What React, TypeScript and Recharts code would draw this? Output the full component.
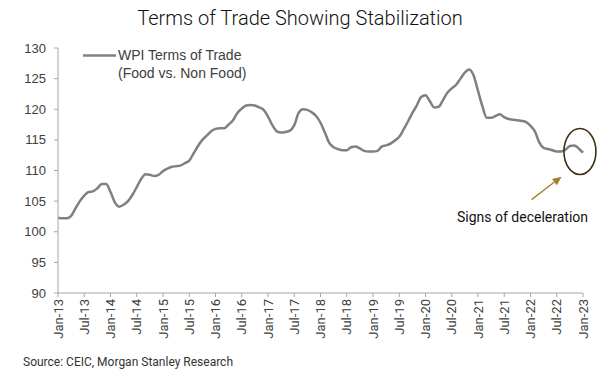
import React from 'react';
import { LineChart, Line, XAxis, YAxis, ReferenceDot } from 'recharts';

// monthly index: 0 = Jan-13 ... 120 = Jan-23
const MONTH_NAMES = ['Jan', 'Feb', 'Mar', 'Apr', 'May', 'Jun', 'Jul', 'Aug', 'Sep', 'Oct', 'Nov', 'Dec'];
const START_YEAR = 13;

const TERMS_OF_TRADE = [
  102.3, 102.2, 102.2, 102.6, 103.8, 105.0, 105.9, 106.5, 106.6, 107.1, 107.8, 107.8,
  106.5, 104.8, 104.1, 104.4, 105.0, 106.0, 107.3, 108.6, 109.4, 109.3, 109.1, 109.3,
  109.9, 110.3, 110.6, 110.7, 110.8, 111.2, 111.6, 112.8, 114.0, 115.0, 115.7, 116.4,
  116.8, 116.9, 116.9, 117.5, 118.2, 119.4, 120.1, 120.6, 120.7, 120.6, 120.3, 119.9,
  118.8, 117.4, 116.4, 116.2, 116.3, 116.5, 117.4, 119.4, 120.0, 119.9, 119.5, 118.9,
  117.8, 116.2, 114.5, 113.8, 113.5, 113.3, 113.3, 113.8, 113.9, 113.6, 113.2, 113.1,
  113.1, 113.2, 113.9, 114.1, 114.4, 114.9, 115.5, 116.7, 118.0, 119.4, 120.6, 122.0,
  122.3, 121.3, 120.3, 120.4, 121.5, 122.7, 123.4, 124.0, 125.0, 126.0, 126.5, 125.5,
  123.0, 120.5, 118.6, 118.6, 118.9, 119.2, 118.7, 118.4, 118.3, 118.2, 118.1, 117.9,
  117.3, 116.4, 114.6, 113.7, 113.5, 113.3, 113.1, 113.1, 113.4, 114.0, 114.1, 113.6,
  112.9,
];

const X_TICKS = [0, 6, 12, 18, 24, 30, 36, 42, 48, 54, 60, 66, 72, 78, 84, 90, 96, 102, 108, 114, 120];
const Y_TICKS = [90, 95, 100, 105, 110, 115, 120, 125, 130];

const monthLabel = (i: number) =>
  `${MONTH_NAMES[i % 12]}-${START_YEAR + Math.floor(i / 12)}`;

const data = TERMS_OF_TRADE.map((value, i) => ({ idx: i, month: monthLabel(i), value }));

const AXIS_COLOR = '#a6a6a6';
const TEXT_COLOR = '#404040';

const XTick = ({ x, y, payload }: any) => (
  <text
    x={x}
    y={y}
    transform={`rotate(-90, ${x}, ${y})`}
    textAnchor="end"
    dy="0.36em"
    fontSize={13}
    fontFamily="Roboto, sans-serif"
    fill={TEXT_COLOR}
  >
    {monthLabel(payload.value)}
  </text>
);

const Ellipse = ({ cx, cy }: any) => (
  <ellipse cx={cx} cy={cy} rx={16} ry={23} fill="none" stroke="#3d310f" strokeWidth={1.6} />
);

const Arrow = ({ cx, cy }: any) => {
  // cx, cy is the arrow head
  const tx = cx - 30;
  const ty = cy + 23;
  const ang = Math.atan2(cy - ty, cx - tx);
  const len = 9;
  const w = 4;
  const bx = cx - len * Math.cos(ang);
  const by = cy - len * Math.sin(ang);
  const px = -Math.sin(ang) * w;
  const py = Math.cos(ang) * w;
  return (
    <g>
      <line x1={tx} y1={ty} x2={bx} y2={by} stroke="#a87c2c" strokeWidth={1.3} />
      <polygon
        points={`${cx},${cy} ${bx + px},${by + py} ${bx - px},${by - py}`}
        fill="#a87c2c"
      />
    </g>
  );
};

export default function App() {
  return (
    <div
      style={{
        position: 'absolute',
        left: 0,
        top: 0,
        width: 600,
        height: 386,
        background: '#fff',
      }}
    >
      <div
        style={{
          position: 'absolute',
          left: 0,
          width: 600,
          top: 6,
          textAlign: 'center',
          fontFamily: 'Roboto, sans-serif',
          fontWeight: 300,
          fontSize: 20,
          color: '#111',
        }}
      >
        Terms of Trade Showing Stabilization
      </div>

      <LineChart
        width={600}
        height={386}
        data={data}
        margin={{ top: 48, right: 17, bottom: 0, left: 0 }}
      >
        <XAxis
          dataKey="idx"
          type="number"
          domain={[0, 120]}
          ticks={X_TICKS}
          interval={0}
          height={93}
          tick={<XTick />}
          tickSize={4}
          tickMargin={2}
          stroke={AXIS_COLOR}
        />
        <YAxis
          type="number"
          domain={[90, 130]}
          ticks={Y_TICKS}
          interval={0}
          width={58}
          tickSize={4}
          tickMargin={8}
          stroke={AXIS_COLOR}
          tick={{ fontSize: 13, fill: TEXT_COLOR, fontFamily: '"Liberation Sans", Arial, sans-serif' }}
        />
        <Line
          type="monotone"
          dataKey="value"
          stroke="#808080"
          strokeWidth={2.5}
          dot={false}
          isAnimationActive={false}
        />
        <ReferenceDot x={119.3} y={113.1} r={0} shape={<Ellipse />} />
        <ReferenceDot x={115.1} y={109.0} r={0} shape={<Arrow />} />
      </LineChart>

      {/* legend */}
      <svg style={{ position: 'absolute', left: 83, top: 53 }} width={33} height={5}>
        <line x1={0} y1={2.5} x2={33} y2={2.5} stroke="#808080" strokeWidth={2.5} />
      </svg>
      <div
        style={{
          position: 'absolute',
          left: 118,
          top: 46,
          fontFamily: '"Liberation Sans", Arial, sans-serif',
          fontSize: 14,
          lineHeight: '18px',
          color: TEXT_COLOR,
        }}
      >
        WPI Terms of Trade
        <br />
        (Food vs. Non Food)
      </div>

      <div
        style={{
          position: 'absolute',
          left: 457,
          top: 209,
          fontFamily: 'Roboto, sans-serif',
          fontSize: 14,
          color: '#111',
          whiteSpace: 'nowrap',
        }}
      >
        Signs of deceleration
      </div>

      <div
        style={{
          position: 'absolute',
          left: 23,
          top: 355,
          fontFamily: 'Roboto, sans-serif',
          fontSize: 12,
          color: '#333',
          whiteSpace: 'nowrap',
        }}
      >
        Source: CEIC, Morgan Stanley Research
      </div>
    </div>
  );
}
